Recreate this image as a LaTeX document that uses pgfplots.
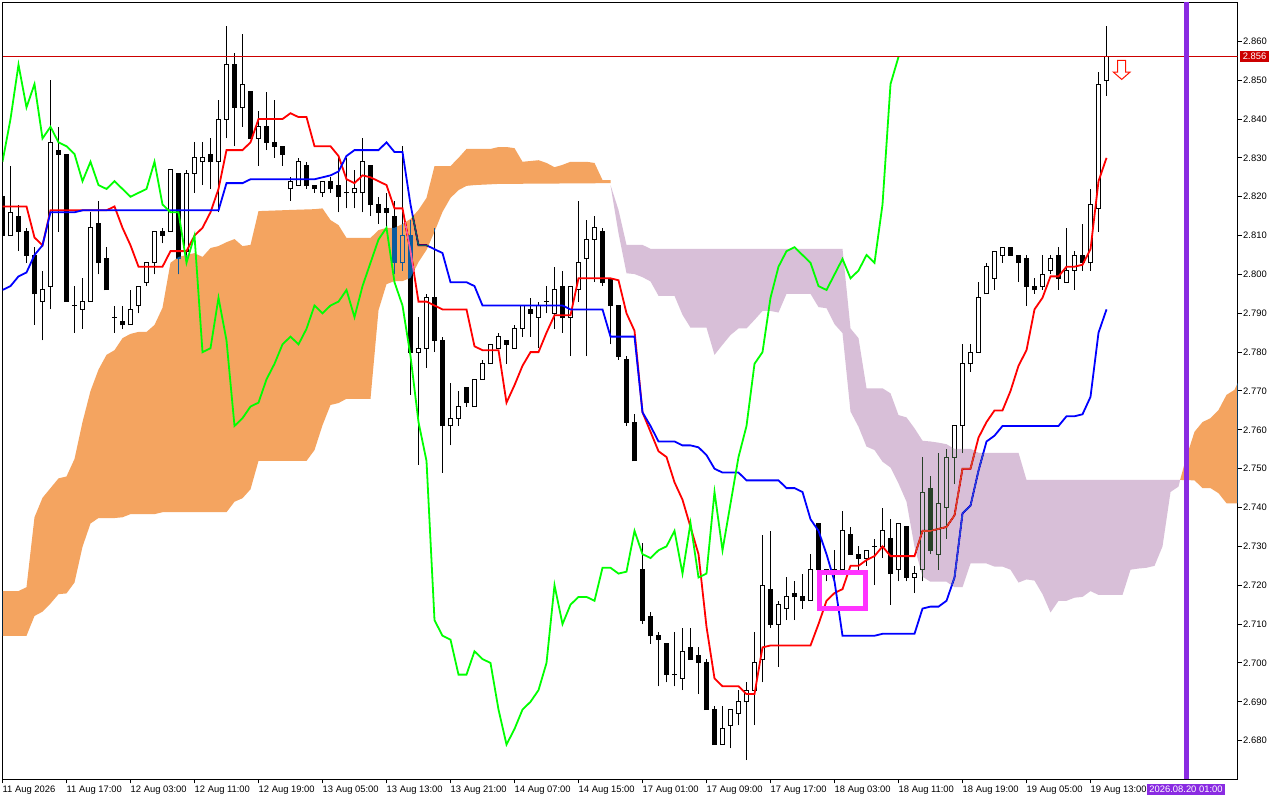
\documentclass[border=0pt]{standalone}
\usepackage{fontspec}
\setmainfont{Liberation Sans}
\usepackage{pgfplots}
\usepackage{pgfplotstable}
\pgfplotsset{compat=1.18}

\definecolor{tenkan}{HTML}{FF0000}
\definecolor{kijun}{HTML}{0000FF}
\definecolor{chikou}{HTML}{00FF00}
% complements of SandyBrown and Thistle, the cloud is blended over the candles
\definecolor{kumoup}{HTML}{0B5B9F}
\definecolor{kumodn}{HTML}{274027}
\definecolor{priceline}{HTML}{CC0000}
\definecolor{vline}{HTML}{8A2BE2}
\definecolor{boxpink}{HTML}{FF33FF}

% bar open high low close
\pgfplotstableread{
x o h l c
0 2.820 2.822 2.807 2.810
1 2.810 2.828 2.810 2.816
2 2.815 2.818 2.806 2.811
3 2.811 2.812 2.803 2.805
4 2.805 2.807 2.787 2.795
5 2.793 2.801 2.783 2.796
6 2.797 2.850 2.791 2.834
7 2.832 2.838 2.811 2.831
8 2.831 2.831 2.793 2.793
9 2.792 2.797 2.785 2.792
10 2.791 2.799 2.786 2.793
11 2.793 2.816 2.793 2.812
12 2.813 2.819 2.800 2.803
13 2.804 2.807 2.796 2.796
14 2.789 2.792 2.785 2.789
15 2.788 2.792 2.786 2.787
16 2.787 2.796 2.787 2.791
17 2.792 2.797 2.790 2.797
18 2.798 2.803 2.797 2.803
19 2.803 2.811 2.800 2.811
20 2.811 2.812 2.808 2.810
21 2.811 2.827 2.811 2.827
22 2.826 2.826 2.800 2.804
23 2.806 2.827 2.804 2.826
24 2.826 2.834 2.821 2.830
25 2.829 2.834 2.823 2.830
26 2.831 2.835 2.822 2.829
27 2.829 2.845 2.816 2.840
28 2.840 2.864 2.835 2.854
29 2.854 2.857 2.833 2.843
30 2.843 2.862 2.838 2.849
31 2.847 2.847 2.835 2.835
32 2.835 2.842 2.828 2.838
33 2.838 2.847 2.832 2.834
34 2.834 2.845 2.830 2.833
35 2.833 2.833 2.828 2.831
36 2.822 2.825 2.819 2.824
37 2.823 2.830 2.823 2.829
38 2.828 2.829 2.822 2.823
39 2.823 2.823 2.821 2.822
40 2.821 2.824 2.820 2.824
41 2.824 2.825 2.821 2.822
42 2.823 2.830 2.816 2.820
43 2.821 2.830 2.817 2.821
44 2.821 2.827 2.817 2.822
45 2.821 2.835 2.816 2.829
46 2.828 2.828 2.815 2.818
47 2.818 2.820 2.813 2.816
48 2.817 2.821 2.812 2.816
49 2.815 2.819 2.800 2.803
50 2.803 2.833 2.801 2.810
51 2.810 2.814 2.769 2.780
52 2.780 2.789 2.751 2.781
53 2.781 2.795 2.776 2.794
54 2.794 2.812 2.780 2.783
55 2.783 2.784 2.749 2.761
56 2.761 2.772 2.756 2.763
57 2.763 2.770 2.761 2.766
58 2.771 2.771 2.766 2.767
59 2.766 2.773 2.766 2.773
60 2.773 2.778 2.773 2.777
61 2.777 2.782 2.777 2.782
62 2.781 2.785 2.781 2.784
63 2.783 2.783 2.777 2.782
64 2.781 2.787 2.781 2.786
65 2.786 2.792 2.784 2.792
66 2.791 2.794 2.784 2.790
67 2.789 2.793 2.781 2.792
68 2.793 2.797 2.790 2.793
69 2.790 2.802 2.786 2.796
70 2.797 2.801 2.785 2.789
71 2.789 2.797 2.779 2.797
72 2.796 2.819 2.793 2.803
73 2.804 2.814 2.779 2.809
74 2.809 2.815 2.798 2.812
75 2.811 2.812 2.797 2.798
76 2.799 2.799 2.782 2.792
77 2.792 2.792 2.778 2.779
78 2.778 2.779 2.761 2.762
79 2.762 2.764 2.752 2.752
80 2.724 2.731 2.710 2.711
81 2.712 2.713 2.705 2.707
82 2.707 2.708 2.694 2.706
83 2.705 2.705 2.695 2.697
84 2.697 2.708 2.694 2.697
85 2.696 2.709 2.693 2.703
86 2.704 2.709 2.701 2.701
87 2.702 2.704 2.692 2.700
88 2.700 2.701 2.688 2.688
89 2.688 2.689 2.679 2.679
90 2.679 2.689 2.679 2.683
91 2.684 2.688 2.678 2.688
92 2.687 2.693 2.684 2.690
93 2.690 2.695 2.675 2.693
94 2.693 2.708 2.684 2.700
95 2.701 2.733 2.695 2.720
96 2.719 2.734 2.709 2.710
97 2.710 2.716 2.699 2.715
98 2.714 2.722 2.711 2.717
99 2.718 2.721 2.711 2.717
100 2.717 2.723 2.714 2.716
101 2.716 2.728 2.716 2.724
102 2.736 2.736 2.724 2.724
103 2.724 2.724 2.721 2.724
104 2.724 2.729 2.721 2.724
105 2.724 2.739 2.724 2.734
106 2.733 2.735 2.728 2.728
107 2.728 2.730 2.724 2.727
108 2.727 2.729 2.725 2.729
109 2.730 2.732 2.720 2.730
110 2.730 2.740 2.727 2.734
111 2.732 2.737 2.715 2.723
112 2.724 2.736 2.721 2.736
113 2.735 2.735 2.721 2.722
114 2.722 2.725 2.718 2.723
115 2.724 2.753 2.721 2.744
116 2.745 2.748 2.728 2.729
117 2.728 2.754 2.724 2.741
118 2.740 2.755 2.732 2.753
119 2.753 2.761 2.746 2.761
120 2.761 2.782 2.754 2.777
121 2.777 2.782 2.775 2.780
122 2.780 2.798 2.780 2.794
123 2.795 2.803 2.795 2.802
124 2.799 2.806 2.796 2.806
125 2.805 2.807 2.803 2.807
126 2.807 2.807 2.805 2.805
127 2.805 2.805 2.798 2.803
128 2.804 2.805 2.792 2.797
129 2.797 2.799 2.795 2.796
130 2.797 2.805 2.796 2.800
131 2.801 2.805 2.800 2.804
132 2.805 2.807 2.796 2.799
133 2.798 2.812 2.798 2.801
134 2.801 2.806 2.796 2.805
135 2.805 2.813 2.801 2.803
136 2.803 2.822 2.801 2.818
137 2.817 2.852 2.811 2.849
138 2.850 2.864 2.846 2.856
}\candles

\begin{document}
\begin{tikzpicture}[x=1pt,y=1pt]
\useasboundingbox (0,0) rectangle (1280,800);
\begin{axis}[
    at={(2.5pt,20.5pt)}, anchor=south west,
    scale only axis, width=1235pt, height=777pt,
    xmin=0, xmax=154.375,
    ymin=2.67, ymax=2.87,
    axis background/.style={fill=white},
    axis line style={black, line width=1pt},
    tick style={black, line width=1pt},
    tick align=outside, major tick length=4pt,
    xtick pos=bottom, ytick pos=right,
    yticklabel pos=right,
    xtick={0,8,...,136},
    xticklabels={11 Aug 2026,11 Aug 17:00,12 Aug 03:00,12 Aug 11:00,12 Aug 19:00,13 Aug 05:00,13 Aug 13:00,13 Aug 21:00,14 Aug 07:00,14 Aug 15:00,17 Aug 01:00,17 Aug 09:00,17 Aug 17:00,18 Aug 03:00,18 Aug 11:00,18 Aug 19:00,19 Aug 05:00,19 Aug 13:00},
    ytick={2.68,2.69,...,2.861},
    scaled y ticks=false,
    tick label style={font=\fontsize{9.4}{11}\selectfont, inner sep=0pt},
    xticklabel style={anchor=north west, yshift=-2.5pt},
    yticklabel style={anchor=west, xshift=1.5pt,
      /pgf/number format/.cd, fixed, fixed zerofill, precision=3, assume math mode=true},
]

% wicks
\addplot[draw=none, no marks, forget plot,
    error bars/.cd, y dir=plus, y explicit, error mark=none,
    error bar style={draw=black, line width=1pt}]
    table[x=x, y=l, y error plus expr={\thisrow{h}-\thisrow{l}}] {\candles};
% bodies, black first
\addplot[draw=none, no marks, forget plot,
    error bars/.cd, y dir=plus, y explicit, error mark=none,
    error bar style={draw=black, line width=5pt}]
    table[x=x, y expr={min(\thisrow{o},\thisrow{c})-0.00013},
      y error plus expr={abs(\thisrow{o}-\thisrow{c})+0.00026}] {\candles};
% white inside of the up bars
\addplot[draw=none, no marks, forget plot,
    error bars/.cd, y dir=plus, y explicit, error mark=none,
    error bar style={draw=white, line width=3pt}]
    table[x=x, y expr={\thisrow{o}+0.00013},
      y error plus expr={max(0,\thisrow{c}-\thisrow{o}-0.00026)}] {\candles};

% tenkan
\addplot[tenkan, line width=1.8pt, forget plot] coordinates {
(0,2.8175)(1,2.8175)(2,2.8175)(3,2.8175)(4,2.8095)(5,2.8075)(6,2.8165)(7,2.8165)(8,2.8165)(9,2.8165)
(10,2.8165)(11,2.8165)(12,2.8165)(13,2.8165)(14,2.8175)(15,2.812)(16,2.8075)(17,2.802)(18,2.802)(19,2.802)
(20,2.802)(21,2.806)(22,2.806)(23,2.806)(24,2.810)(25,2.812)(26,2.816)(27,2.822)(28,2.832)(29,2.832)
(30,2.832)(31,2.834)(32,2.840)(33,2.840)(34,2.840)(35,2.840)(36,2.8415)(37,2.8405)(38,2.8405)(39,2.833)
(40,2.833)(41,2.833)(42,2.8305)(43,2.8245)(44,2.8235)(45,2.8255)(46,2.825)(47,2.824)(48,2.823)(49,2.817)
(50,2.817)(51,2.806)(52,2.793)(53,2.793)(54,2.792)(55,2.791)(56,2.791)(57,2.791)(58,2.791)(59,2.7815)
(60,2.7805)(61,2.7805)(62,2.7805)(63,2.767)(64,2.7715)(65,2.7765)(66,2.780)(67,2.780)(68,2.785)(69,2.7895)
(70,2.7895)(71,2.7895)(72,2.799)(73,2.799)(74,2.799)(75,2.799)(76,2.799)(77,2.7985)(78,2.790)(79,2.7855)
(80,2.7645)(81,2.7595)(82,2.7545)(83,2.753)(84,2.7465)(85,2.742)(86,2.735)(87,2.728)(88,2.7093)(89,2.696)
(90,2.694)(91,2.694)(92,2.694)(93,2.692)(94,2.692)(95,2.704)(96,2.7045)(97,2.7045)(98,2.7045)(99,2.7045)
(100,2.7045)(101,2.7045)(102,2.710)(103,2.716)(104,2.718)(105,2.719)(106,2.725)(107,2.725)(108,2.7265)(109,2.7275)
(110,2.730)(111,2.7275)(112,2.7275)(113,2.7275)(114,2.7275)(115,2.734)(116,2.734)(117,2.7345)(118,2.735)(119,2.738)
(120,2.750)(121,2.750)(122,2.758)(123,2.762)(124,2.765)(125,2.765)(126,2.770)(127,2.7765)(128,2.7805)(129,2.791)
(130,2.794)(131,2.7995)(132,2.7995)(133,2.802)(134,2.802)(135,2.8025)(136,2.8065)(137,2.824)(138,2.830)
};

% kijun
\addplot[kijun, line width=1.8pt, forget plot] coordinates {
(0,2.796)(1,2.797)(2,2.7995)(3,2.8005)(4,2.805)(5,2.8075)(6,2.816)(7,2.816)(8,2.816)(9,2.816)
(10,2.8165)(27,2.8165)(28,2.8235)(29,2.8235)(30,2.8235)(31,2.8245)(39,2.8245)
(40,2.825)(41,2.8255)(42,2.8265)(43,2.8305)(44,2.832)(45,2.832)(46,2.832)(47,2.832)(48,2.834)(49,2.8315)
(50,2.8315)(51,2.818)(52,2.8075)(53,2.8075)(54,2.8065)(55,2.8055)(56,2.798)(57,2.798)(58,2.798)(59,2.797)
(60,2.792)(70,2.792)(71,2.791)(75,2.791)(76,2.784)(79,2.784)
(80,2.7645)(81,2.761)(82,2.757)(83,2.757)(84,2.757)(85,2.756)(86,2.756)(87,2.7555)(88,2.7535)(89,2.750)
(90,2.749)(91,2.749)(92,2.749)(93,2.747)(97,2.747)(98,2.745)(99,2.745)(100,2.744)(101,2.737)(102,2.734)
(103,2.728)(104,2.721)(105,2.707)(109,2.707)(110,2.7075)(114,2.7075)(115,2.714)(116,2.7145)(117,2.7145)(118,2.716)
(119,2.722)(120,2.7385)(121,2.7405)(122,2.7495)(123,2.757)(124,2.7585)(125,2.761)(132,2.761)(133,2.7635)(134,2.7635)
(135,2.764)(136,2.7685)(137,2.785)(138,2.791)
};

% cloud, bearish part
\addplot[draw=none, fill=kumoup, blend mode=difference, forget plot] coordinates {
(0,2.7185)(2,2.7185)(3,2.7195)(4,2.7375)(5,2.7425)(6,2.745)(7,2.7475)(8,2.748)(9,2.7525)(10,2.762)
(11,2.770)(12,2.7755)(13,2.7793)(14,2.7805)(15,2.7836)(16,2.7847)(17,2.7852)(18,2.7852)(19,2.787)(20,2.7914)
(21,2.803)(22,2.8045)(23,2.805)(24,2.8055)(25,2.8045)(26,2.8068)(27,2.8073)(28,2.8083)(29,2.8091)(30,2.8073)
(31,2.8076)(32,2.8163)(36,2.8166)(39,2.8168)(40,2.817)(41,2.814)(42,2.8127)(43,2.8094)(46,2.8094)(47,2.8114)
(48,2.812)(49,2.812)(50,2.813)(51,2.8143)(52,2.8166)(53,2.8197)(54,2.8279)(56,2.8279)(57,2.830)(58,2.8323)
(61,2.8323)(62,2.8328)(63,2.8328)(64,2.8325)(65,2.829)(66,2.8292)(67,2.8294)(68,2.8287)(69,2.8276)(70,2.8282)
(71,2.829)(73,2.829)(74,2.8287)(75,2.8243)(76,2.8243)
(76,2.8235)(62,2.8233)(59,2.823)(58,2.8228)(57,2.8217)(56,2.8197)(55,2.8161)(54,2.811)(53,2.8063)(52,2.8032)
(51,2.7991)(50,2.7983)(49,2.7983)(48,2.7975)(47,2.7908)(46,2.768)(43,2.768)(42,2.7669)(41,2.7664)(40,2.7612)
(39,2.7548)(38,2.752)(32,2.752)(31,2.7447)(30,2.7424)(29,2.7415)(28,2.7388)(20,2.7388)(19,2.7383)(16,2.7383)
(15,2.7375)(14,2.7373)(12,2.7373)(11,2.7359)(10,2.7299)(9,2.7207)(8,2.7179)(7,2.7177)(6,2.7153)(5,2.7132)
(4,2.7121)(3,2.707)(0,2.707)
} -- cycle;

% cloud, bullish part
\addplot[draw=none, fill=kumodn, blend mode=difference, forget plot] coordinates {
(76,2.823)(77,2.8166)(78,2.8076)(80,2.8076)(81,2.8066)(105,2.8066)(106,2.7861)(107,2.7836)(108,2.7707)(110,2.7707)
(111,2.7694)(112,2.7638)(113,2.7632)(114,2.7604)(115,2.7572)(116,2.757)(117,2.7567)(118,2.7563)(119,2.7551)(121,2.7551)
(122,2.7541)(127,2.7541)(128,2.7471)(147.2,2.7471)
(147,2.7454)(146,2.744)(145,2.730)(144,2.725)(143,2.7245)(142,2.7243)(141,2.724)(140,2.7175)(137,2.7175)(136,2.7185)
(135,2.717)(134,2.7168)(133,2.716)(132,2.716)(131,2.713)(130,2.7177)(129,2.7212)(128,2.7215)(127,2.7207)(126,2.724)
(125,2.7248)(124,2.7248)(123,2.7256)(121,2.7256)(120,2.7195)(119,2.7195)(118,2.7209)(116,2.7209)(115,2.7222)(114,2.7299)
(113,2.7415)(112,2.7462)(111,2.7503)(110,2.7518)(109,2.7548)(108,2.7557)(107,2.7608)(106,2.7647)(105,2.7849)(104,2.7872)
(103,2.7913)(102,2.7916)(101,2.795)(98,2.795)(97,2.7902)(96,2.7906)(95,2.7906)(94,2.7883)(93,2.7861)(92,2.7861)
(91,2.7844)(90,2.7819)(89,2.7793)(88,2.7863)(86,2.7863)(85,2.7896)(84,2.7945)(82,2.7945)(81,2.7982)(80,2.7993)
(79,2.8001)(78,2.8003)(77,2.8106)
} -- cycle;

\addplot[draw=none, fill=kumoup, blend mode=difference, forget plot] coordinates {
(147.2,2.7471)(148,2.7531)(149,2.7595)(150,2.762)(151,2.763)(152,2.7651)(153,2.769)(154,2.7703)(154.4,2.7721)
(154.4,2.7411)(153,2.7411)(152,2.7437)(151,2.745)(150,2.745)(149,2.747)
} -- cycle;

% chikou, closes moved back 26 bars
\addplot[chikou, line width=1.8pt, forget plot] coordinates {
(0,2.829)(1,2.840)(2,2.854)(3,2.843)(4,2.849)(5,2.835)(6,2.838)(7,2.834)(8,2.833)(9,2.831)
(10,2.824)(11,2.829)(12,2.823)(13,2.822)(14,2.824)(15,2.822)(16,2.820)(17,2.821)(18,2.822)(19,2.829)
(20,2.818)(21,2.816)(22,2.816)(23,2.803)(24,2.810)(25,2.780)(26,2.781)(27,2.794)(28,2.783)(29,2.761)
(30,2.763)(31,2.766)(32,2.767)(33,2.773)(34,2.777)(35,2.782)(36,2.784)(37,2.782)(38,2.786)(39,2.792)
(40,2.790)(41,2.792)(42,2.793)(43,2.796)(44,2.789)(45,2.797)(46,2.803)(47,2.809)(48,2.812)(49,2.798)
(50,2.792)(51,2.779)(52,2.762)(53,2.752)(54,2.711)(55,2.707)(56,2.706)(57,2.697)(58,2.697)(59,2.703)
(60,2.701)(61,2.700)(62,2.688)(63,2.679)(64,2.683)(65,2.688)(66,2.690)(67,2.693)(68,2.700)(69,2.720)
(70,2.710)(71,2.715)(72,2.717)(73,2.717)(74,2.716)(75,2.7245)(76,2.7245)(77,2.723)(78,2.7235)(79,2.734)
(80,2.728)(81,2.727)(82,2.729)(83,2.730)(84,2.734)(85,2.723)(86,2.736)(87,2.722)(88,2.723)(89,2.744)
(90,2.729)(91,2.741)(92,2.753)(93,2.761)(94,2.777)(95,2.780)(96,2.794)(97,2.802)(98,2.806)(99,2.807)
(100,2.805)(101,2.803)(102,2.797)(103,2.796)(104,2.800)(105,2.804)(106,2.799)(107,2.801)(108,2.805)(109,2.803)
(110,2.818)(111,2.849)(112,2.856)
};

% last price
\addplot[priceline, line width=1pt, forget plot] coordinates {(0,2.856)(154.375,2.856)};

% time line
\addplot[vline, line width=5pt, forget plot] coordinates {(148,2.67)(148,2.87)};

% rectangle object
\addplot[boxpink, line width=5pt, line join=miter, forget plot] coordinates {
(102.1,2.7234)(107.9,2.7234)(107.9,2.7139)(102.1,2.7139)} -- cycle;

% sell arrow
\addplot[draw=red!85!orange, fill=white, line width=1pt, forget plot] coordinates {
(139.4,2.8551)(140.4,2.8551)(140.4,2.8521)(140.95,2.8521)(139.9,2.8502)(138.85,2.8521)(139.4,2.8521)} -- cycle;

\end{axis}

% price tag and time tag on the scales
\fill[priceline] (1240,738) rectangle (1269,749);
\node[text=white, inner sep=0pt, font=\fontsize{9.4}{11}\selectfont] at (1254.5,743.5) {2.856};
\fill[vline] (1147,5) rectangle (1225,16);
\node[text=white, inner sep=0pt, font=\fontsize{9.4}{11}\selectfont] at (1186,10.5) {2026.08.20 01:00};
\end{tikzpicture}
\end{document}
